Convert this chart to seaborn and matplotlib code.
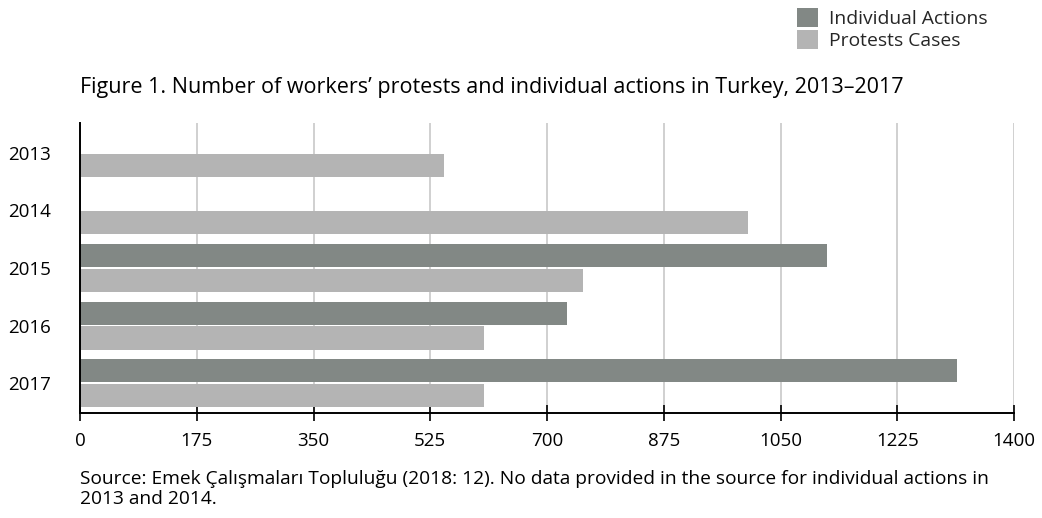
import numpy as np
import pandas as pd
import matplotlib
matplotlib.use("Agg")
import matplotlib.pyplot as plt
import seaborn as sns

years = ["2013", "2014", "2015", "2016", "2017"]
individual_actions = [np.nan, np.nan, 1119, 730, 1314]
protest_cases = [546, 1001, 754, 606, 606]
series_names = ["Individual Actions", "Protests Cases"]
xticks = [0, 175, 350, 525, 700, 875, 1050, 1225, 1400]

df = pd.DataFrame({
    "year": years * 2,
    "value": individual_actions + protest_cases,
    "series": [series_names[0]] * len(years) + [series_names[1]] * len(years),
})

sns.set_theme(style="white")
plt.rcParams["font.family"] = ["Open Sans", "DejaVu Sans"]

fig = plt.figure(figsize=(10.42, 5.18), dpi=100)
ax = fig.add_axes([80 / 1042, 1 - 413 / 518, 934 / 1042, 290 / 518])

palette = {series_names[0]: "#828885", series_names[1]: "#b4b4b4"}
sns.barplot(data=df, y="year", x="value", hue="series", order=years,
            hue_order=series_names, palette=palette, orient="h",
            width=0.86, gap=0.06, saturation=1, linewidth=0, ax=ax, legend=True)

ax.set_xlim(0, 1400)
ax.set_ylim(4.52, -0.52)
ax.set_xticks(xticks)
ax.set_xticklabels([str(t) for t in xticks], fontsize=13.5)
ax.set_xlabel("")
ax.set_ylabel("")
ax.tick_params(axis="x", direction="inout", length=12, width=1.2, color="black",
               pad=8, bottom=True)
ax.tick_params(axis="y", length=0, pad=21, labelsize=13.5)
for lab in ax.get_yticklabels():
    lab.set_color("black")
for lab in ax.get_xticklabels():
    lab.set_color("black")

ax.grid(axis="x", color="#c8c8c8", linewidth=1.2)
ax.set_axisbelow(True)
for s in ["top", "right"]:
    ax.spines[s].set_visible(False)
for s in ["left", "bottom"]:
    ax.spines[s].set_color("black")
    ax.spines[s].set_linewidth(1.4)

handles, labels = ax.get_legend_handles_labels()
ax.get_legend().remove()
fig.legend(handles, labels, loc="upper left", bbox_to_anchor=(797 / 1042, 1 - 8 / 518),
           frameon=False, fontsize=13.9, handlelength=1.1, handleheight=1.1,
           handletextpad=0.55, labelspacing=0.12, borderpad=0, borderaxespad=0)

fig.text(80 / 1042, 1 - 87 / 518,
         "Figure 1. Number of workers\u2019 protests and individual actions in Turkey, 2013\u20132017",
         fontsize=15.5, ha="left", va="center", color="black")
fig.text(80 / 1042, 1 - 470 / 518,
         "Source: Emek \u00c7al\u0131\u015fmalar\u0131 Toplulu\u011fu (2018: 12). No data provided in the source for individual actions in\n2013 and 2014.",
         fontsize=13.8, ha="left", va="top", color="black", linespacing=1.15)

fig.savefig("out.png", dpi=100)
